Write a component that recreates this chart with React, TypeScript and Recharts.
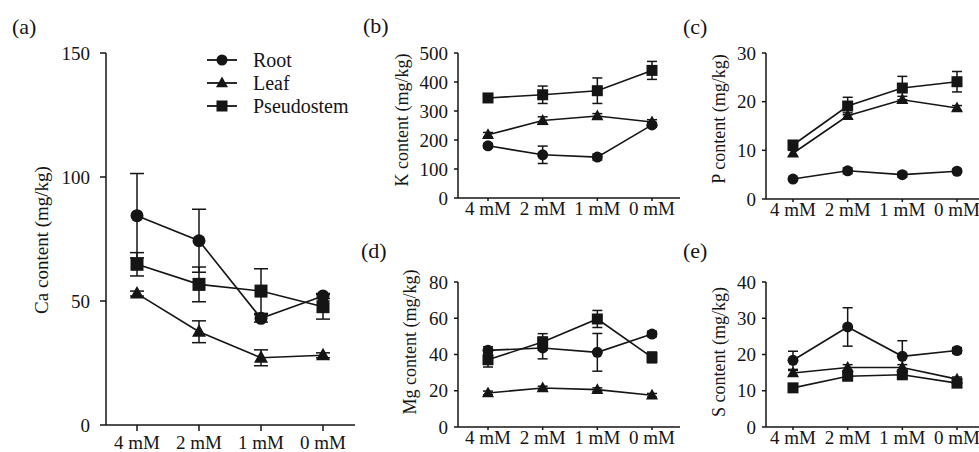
import { ErrorBar, Label, Legend, Line, LineChart, XAxis, YAxis } from 'recharts'

const doses = ['4 mM', '2 mM', '1 mM', '0 mM']

// (a) Ca
const caRoot = [84.4, 74.3, 43, 52]
const caRootErr = [17, 12.7, 1.5, 1]
const caLeaf = [53, 37.6, 27.1, 28.1]
const caLeafErr = [1, 4.4, 3.2, 1]
const caPseudo = [64.8, 56.7, 54, 47.7]
const caPseudoErr = [4.7, 7, 9, 5]

// (b) K
const kRoot = [180, 149, 141, 252]
const kRootErr = [8, 30, 10, 8]
const kLeaf = [218, 267, 283, 262]
const kLeafErr = [8, 13, 8, 8]
const kPseudo = [345, 356, 370, 440]
const kPseudoErr = [8, 30, 44, 31]

// (c) P
const pRoot = [4.1, 5.8, 5.0, 5.7]
const pRootErr = [0.3, 0.6, 0.5, 0.4]
const pLeaf = [9.4, 17.1, 20.4, 18.7]
const pLeafErr = [0.6, 0.6, 0.7, 0.5]
const pPseudo = [11.1, 19.1, 22.8, 24.1]
const pPseudoErr = [0.8, 1.8, 2.4, 2.1]

// (d) Mg
const mgRoot = [42.3, 43.6, 41.2, 51.3]
const mgRootErr = [2, 6, 10.4, 1.5]
const mgLeaf = [18.8, 21.5, 20.6, 17.5]
const mgLeafErr = [1, 1, 1, 1]
const mgPseudo = [37.1, 46.9, 59.6, 38.4]
const mgPseudoErr = [4, 4.6, 4.7, 3]

// (e) S
const sRoot = [18.4, 27.6, 19.5, 21.1]
const sRootErr = [2.5, 5.3, 4.3, 0.8]
const sLeaf = [14.9, 16.4, 16.4, 13.2]
const sLeafErr = [0.7, 0.8, 0.8, 0.6]
const sPseudo = [10.8, 14.0, 14.4, 12.1]
const sPseudoErr = [0.6, 0.8, 0.8, 0.8]

const caTicks = [0, 50, 100, 150]
const kTicks = [0, 100, 200, 300, 400, 500]
const pTicks = [0, 10, 20, 30]
const mgTicks = [0, 20, 40, 60, 80]
const sTicks = [0, 10, 20, 30, 40]

const INK = '#151515'
const FONT = '"Liberation Serif", "Times New Roman", serif'

type Shape = 'circle' | 'triangle' | 'square'

function buildRows(root: number[], rootErr: number[], leaf: number[], leafErr: number[], pseudo: number[], pseudoErr: number[]) {
  return doses.map((dose, i) => ({
    dose,
    root: root[i],
    rootErr: rootErr[i],
    leaf: leaf[i],
    leafErr: leafErr[i],
    pseudo: pseudo[i],
    pseudoErr: pseudoErr[i],
  }))
}

function Marker({ shape, cx, cy, size }: { shape: Shape; cx?: number; cy?: number; size: number }) {
  if (cx == null || cy == null) return null
  if (shape === 'circle') return <circle cx={cx} cy={cy} r={size / 2} fill={INK} />
  if (shape === 'square') return <rect x={cx - size / 2} y={cy - size / 2} width={size} height={size} fill={INK} />
  const h = size * 0.9
  return <path d={`M${cx},${cy - h * 0.6}L${cx + size / 2},${cy + h * 0.4}L${cx - size / 2},${cy + h * 0.4}Z`} fill={INK} />
}

function LegendBox() {
  const rows: { shape: Shape; label: string; y: number }[] = [
    { shape: 'circle', label: 'Root', y: 14 },
    { shape: 'triangle', label: 'Leaf', y: 37 },
    { shape: 'square', label: 'Pseudostem', y: 60 },
  ]
  return (
    <svg width={160} height={76}>
      {rows.map(r => (
        <g key={r.label}>
          <line x1={7} x2={37} y1={r.y} y2={r.y} stroke={INK} strokeWidth={1.8} />
          <Marker shape={r.shape} cx={22} cy={r.y} size={r.shape === 'triangle' ? 12 : 11} />
          <text x={53} y={r.y} dominantBaseline="central" fontSize={20} fontFamily={FONT} fill={INK}>{r.label}</text>
        </g>
      ))}
    </svg>
  )
}

type PanelProps = {
  left: number
  top: number
  width: number
  height: number
  marginTop: number
  marginRight: number
  yWidth: number
  xHeight: number
  padL: number
  padR: number
  ticks: number[]
  title: string
  titleX: number
  titleY: number
  titleSize: number
  rows: ReturnType<typeof buildRows>
  big?: boolean
}

function Panel(p: PanelProps) {
  const mk = p.big ? 13 : 11
  const cap = p.big ? 7 : 5
  const series: { key: 'root' | 'leaf' | 'pseudo'; shape: Shape }[] = [
    { key: 'leaf', shape: 'triangle' },
    { key: 'pseudo', shape: 'square' },
    { key: 'root', shape: 'circle' },
  ]
  return (
    <div style={{ position: 'absolute', left: p.left, top: p.top }}>
      <LineChart width={p.width} height={p.height} data={p.rows} margin={{ top: p.marginTop, right: p.marginRight, left: 0, bottom: 0 }}>
        <XAxis
          dataKey="dose"
          height={p.xHeight}
          padding={{ left: p.padL, right: p.padR }}
          interval={0}
          tickSize={p.big ? 6 : 3}
          tickMargin={p.big ? 5 : 1}
          axisLine={{ stroke: INK, strokeWidth: 1.5 }}
          tickLine={{ stroke: INK, strokeWidth: 1.5 }}
          tick={{ fill: INK, fontSize: 19, fontFamily: FONT }}
        />
        <YAxis
          type="number"
          domain={[p.ticks[0], p.ticks[p.ticks.length - 1]]}
          ticks={p.ticks}
          interval={0}
          width={p.yWidth}
          tickSize={p.big ? 6 : 4}
          tickMargin={p.big ? 10 : 6}
          axisLine={{ stroke: INK, strokeWidth: 1.5 }}
          tickLine={{ stroke: INK, strokeWidth: 1.5 }}
          tick={{ fill: INK, fontSize: 19, fontFamily: FONT }}
          label={
            <Label
              content={() => (
                <text
                  x={p.titleX}
                  y={p.titleY}
                  transform={`rotate(-90 ${p.titleX} ${p.titleY})`}
                  textAnchor="middle"
                  dominantBaseline="central"
                  fontSize={p.titleSize}
                  fontFamily={FONT}
                  fill={INK}
                >
                  {p.title}
                </text>
              )}
            />
          }
        />
        {p.big ? (
          <Legend layout="vertical" verticalAlign="middle" align="center" content={() => <LegendBox />} wrapperStyle={{ position: 'absolute', left: 200, top: 46, width: 160 }} />
        ) : null}
        {series.map(s => (
          <Line
            key={s.key}
            type="linear"
            dataKey={s.key}
            stroke={INK}
            strokeWidth={1.6}
            isAnimationActive={false}
            activeDot={false}
            dot={(d: { cx?: number; cy?: number; index?: number }) => <Marker key={`${s.key}-${d.index}`} shape={s.shape} cx={d.cx} cy={d.cy} size={s.shape === 'triangle' ? mk + 1 : mk} />}
          >
            <ErrorBar dataKey={`${s.key}Err`} width={cap} stroke={INK} strokeWidth={1.5} direction="y" isAnimationActive={false} />
          </Line>
        ))}
      </LineChart>
    </div>
  )
}

export default function App() {
  const letters = [
    { t: '(a)', x: 12, y: 34 },
    { t: '(b)', x: 363, y: 33 },
    { t: '(c)', x: 683, y: 34 },
    { t: '(d)', x: 361, y: 258 },
    { t: '(e)', x: 683, y: 258 },
  ]
  return (
    <div style={{ position: 'absolute', left: 0, top: 0, width: 979, height: 452, overflow: 'hidden', background: '#fff' }}>
      <Panel left={0} top={0} width={362} height={452} marginTop={53} marginRight={7} yWidth={106} xHeight={27} padL={31} padR={32}
        ticks={caTicks} title="Ca content (mg/kg)" titleX={41} titleY={240} titleSize={19}
        rows={buildRows(caRoot, caRootErr, caLeaf, caLeafErr, caPseudo, caPseudoErr)} big />
      <Panel left={330} top={0} width={355} height={225} marginTop={53} marginRight={5} yWidth={128} xHeight={27} padL={30} padR={28}
        ticks={kTicks} title="K content (mg/kg)" titleX={72} titleY={120} titleSize={18}
        rows={buildRows(kRoot, kRootErr, kLeaf, kLeafErr, kPseudo, kPseudoErr)} />
      <Panel left={640} top={0} width={350} height={225} marginTop={53} marginRight={6} yWidth={126} xHeight={26} padL={27} padR={27}
        ticks={pTicks} title="P content (mg/kg)" titleX={79} titleY={119} titleSize={18}
        rows={buildRows(pRoot, pRootErr, pLeaf, pLeafErr, pPseudo, pPseudoErr)} />
      <Panel left={330} top={230} width={355} height={222} marginTop={52} marginRight={5} yWidth={128} xHeight={25} padL={30} padR={28}
        ticks={mgTicks} title="Mg content (mg/kg)" titleX={80} titleY={112} titleSize={18}
        rows={buildRows(mgRoot, mgRootErr, mgLeaf, mgLeafErr, mgPseudo, mgPseudoErr)} />
      <Panel left={640} top={230} width={350} height={222} marginTop={52} marginRight={6} yWidth={126} xHeight={25} padL={27} padR={27}
        ticks={sTicks} title="S content (mg/kg)" titleX={79} titleY={122} titleSize={18}
        rows={buildRows(sRoot, sRootErr, sLeaf, sLeafErr, sPseudo, sPseudoErr)} />
      <svg width={979} height={452} style={{ position: 'absolute', left: 0, top: 0, pointerEvents: 'none' }}>
        {letters.map(l => (
          <text key={l.t} x={l.x} y={l.y} fontSize={22} fontFamily={FONT} fill={INK}>{l.t}</text>
        ))}
      </svg>
    </div>
  )
}
